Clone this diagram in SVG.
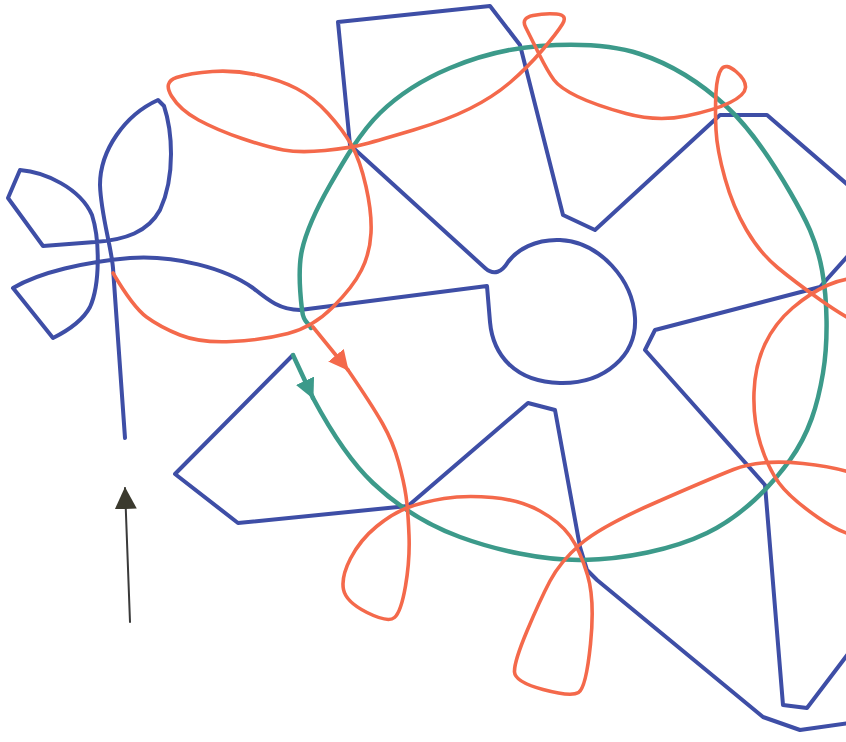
<svg xmlns="http://www.w3.org/2000/svg" width="846" height="742" viewBox="0 0 846 742">
<style>
.b{fill:none;stroke:#3e4ea6;stroke-width:4;stroke-linejoin:round;stroke-linecap:round}
.o{fill:none;stroke:#f4694b;stroke-width:3.6;stroke-linejoin:round;stroke-linecap:round}
.t{fill:none;stroke:#3c9a8a;stroke-width:4.5;stroke-linejoin:round;stroke-linecap:round}
.k{fill:none;stroke:#3a3a3a;stroke-width:2;stroke-linecap:round}
</style>
<defs>
<marker id="aht" markerUnits="userSpaceOnUse" markerWidth="20" markerHeight="20" viewBox="0 0 20 20" refX="19" refY="10" orient="auto"><path d="M0,0 L20,10 L0,20 z" fill="#3c9a8a"/></marker>
<marker id="aho" markerUnits="userSpaceOnUse" markerWidth="20" markerHeight="20" viewBox="0 0 20 20" refX="19" refY="10" orient="auto"><path d="M0,0 L20,10 L0,20 z" fill="#f4694b"/></marker>
<marker id="ahk" markerUnits="userSpaceOnUse" markerWidth="22" markerHeight="22" viewBox="0 0 22 22" refX="21" refY="11" orient="auto"><path d="M0,0 L22,11 L0,22 z" fill="#3b3a2e"/></marker>
</defs>
<rect width="846" height="742" fill="#ffffff"/>
<g id="blue">
<path class="b" d="M125,438 L113,268 C111,245 101,215 100,185 C100,150 125,115 158,100 L164,106 C172,130 176,175 160,210 C148,232 125,240 95,242 L43,246 L8,198 L20,170 C45,172 80,188 92,215 C100,240 100,285 90,307 C82,322 65,332 53,338 L13,288 C40,272 85,262 130,258 C175,255 225,268 253,288 C268,300 280,310 300,310 L487,286 L490,322 C493,355 515,382 560,383 C605,384 637,355 635,318 C633,280 600,242 560,240 C535,239 517,250 508,262 C502,272 494,276 485,268 L350,145 L338,22 L490,6 L520,45 L563,215 L595,230 L720,115 L767,115 L870,204 L870,231 L820,287 L655,330 L645,350 L765,485 L783,705 L807,708 L870,625 L870,720 L800,730 L763,717 L597,580 L587,570 L580,547 L555,410 L528,403 L408,506 L238,523 L175,474 L293,355"/>
</g>
<g id="teal">
<path class="t" d="M313,398 C328,426 348.5,459.8 373,483 C397.5,506.2 425,524.2 460,537 C495,549.8 542,560.7 583,560 C624,559.3 672.5,549.7 707,533 C741.5,516.3 770.7,486.7 790,460 C809.3,433.3 817.7,404.7 823,373 C828.3,341.3 827.5,300.2 822,270 C816.5,239.8 805.8,219.2 790,192 C774.2,164.8 752,130 727,107 C702,84 671.2,64.2 640,54 C608.8,43.8 571.7,43.7 540,46 C508.3,48.3 476.7,56.8 450,68 C423.3,79.2 400,93.5 380,113 C360,132.5 343,162.2 330,185 C317,207.8 306.7,229.2 302,250 C297.3,270.8 300.5,297 302,310 C303.5,323 308,322 311,328"/>
</g>
<g id="orange">
<path class="o" d="M348,370 Q372,405 382.5,423.5 Q393,442 398.5,462 Q404,482 406,496 Q408,510 409,535 Q410,560 405.5,586 Q401,612 394.5,617.5 Q388,623 367,612.5 Q346,602 343.5,589.5 Q341,577 350.5,558.5 Q360,540 376.5,526.5 Q393,513 408,507.5 Q423,502 444,498.5 Q465,495 492.5,497.5 Q520,500 540,511 Q560,522 570,536 Q580,550 587.5,575 Q595,600 590.5,644 Q586,688 578.5,692.5 Q571,697 543,689.5 Q515,682 514.5,672 Q514,662 527,631 Q540,600 550,581 Q560,562 580,544.5 Q600,527 653.5,503.5 Q707,480 733.5,469.5 Q760,459 803,463.5 Q846,468 865.5,479 Q885,490 882.5,512.5 Q880,535 863,536 Q846,537 818,517.5 Q790,498 779,483 Q768,468 760.5,444 Q753,420 754,392.5 Q755,365 765,344 Q775,323 792.5,308 Q810,293 828,285 Q846,277 863,278.5 Q880,280 877.5,305 Q875,330 860.5,324 Q846,318 820.5,300 Q795,282 777.5,267.5 Q760,253 746.5,230 Q733,207 725,178.5 Q717,150 716,130 Q715,110 716,92.5 Q717,75 721.5,69 Q726,63 736,71.5 Q746,80 745.5,87.5 Q745,95 730,102.5 Q715,110 686,116 Q657,122 626,113.5 Q595,105 577.5,96.5 Q560,88 554,80 Q548,72 539,54 Q530,36 525.5,27 Q521,18 533,15.5 Q545,13 556.5,14 Q568,15 562.5,24 Q557,33 542,50.5 Q527,68 510,82.5 Q493,97 470,108.5 Q447,120 413.5,130 Q380,140 365,144 Q350,148 325,150.5 Q300,153 283.5,150 Q267,147 242,138.5 Q217,130 198.5,120 Q180,110 171.5,96 Q163,82 176.5,77.5 Q190,73 212.5,71.5 Q235,70 257.5,75 Q280,80 296.5,88.5 Q313,97 328,113.5 Q343,130 351.5,145 Q360,160 366,186.5 Q372,213 371,233 Q370,253 361.5,270 Q353,287 333,307 Q313,327 288,333.5 Q263,340 231.5,341.5 Q200,343 180,335 Q160,327 146.5,317 Q133,307 113,273"/>
</g>
<g id="connectors">
<path class="t" d="M293,355 L313,398" marker-end="url(#aht)"/>
<path class="o" d="M313,327 L348,370" marker-end="url(#aho)"/>
<path class="k" d="M130,622 L125,488" marker-end="url(#ahk)"/>
</g>
</svg>
